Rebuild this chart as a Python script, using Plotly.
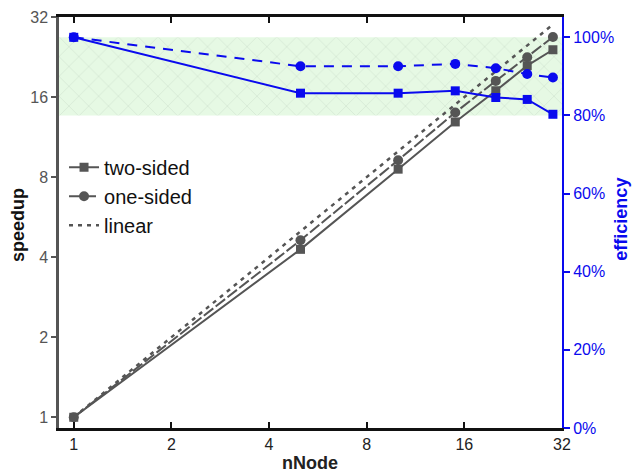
import plotly.graph_objects as go
import math

nodes = [1, 5, 10, 15, 20, 25, 30]
speedup_two = [1.0, 4.28, 8.57, 12.9, 16.9, 21.0, 24.1]
speedup_one = [1.0, 4.63, 9.26, 14.0, 18.4, 22.6, 26.9]
linear_x = [1, 30]
linear_y = [1, 30]
eff_two = [1.0, 0.857, 0.857, 0.863, 0.846, 0.841, 0.803]
eff_one = [1.0, 0.926, 0.926, 0.932, 0.921, 0.906, 0.897]
band_low, band_high = 0.8, 1.0
tick_vals = [1, 2, 4, 8, 16, 32]
eff_ticks = [0, 0.2, 0.4, 0.6, 0.8, 1.0]
eff_labels = ["0%", "20%", "40%", "60%", "80%", "100%"]

GRAY = "#555555"
BLUE = "#0a0aee"
FONT = "Liberation Sans, Arial, sans-serif"

X_RANGE = [math.log10(2 ** -0.151), math.log10(32)]
Y_RANGE = [math.log10(2 ** -0.134), math.log10(32)]
E_RANGE = [0, 1.052]


def eff_to_speed_axis(e):
    frac = (e - E_RANGE[0]) / (E_RANGE[1] - E_RANGE[0])
    return 10 ** (Y_RANGE[0] + frac * (Y_RANGE[1] - Y_RANGE[0]))


bx0, bx1 = 10 ** X_RANGE[0], 10 ** X_RANGE[1]
by0, by1 = eff_to_speed_axis(band_low), eff_to_speed_axis(band_high)

fig = go.Figure()

# efficiency band (hatched), drawn on the base subplot so it sits under everything
fig.add_trace(go.Scatter(
    x=[bx0, bx1, bx1, bx0, bx0], y=[by0, by0, by1, by1, by0],
    mode="lines", line=dict(width=0),
    fill="toself", fillcolor="#e6f9e4",
    fillpattern=dict(shape="x", size=14, solidity=0.08, fgcolor="#b5c5b5", bgcolor="#e6f9e4"),
    showlegend=False, hoverinfo="skip"))

fig.add_trace(go.Scatter(x=nodes, y=speedup_two, mode="lines+markers", name="two-sided",
    line=dict(color=GRAY, width=2), marker=dict(symbol="square", size=9, color=GRAY)))
fig.add_trace(go.Scatter(x=nodes, y=speedup_one, mode="lines+markers", name="one-sided",
    line=dict(color=GRAY, width=2, dash="12px,3px"), marker=dict(symbol="circle", size=10, color=GRAY)))
fig.add_trace(go.Scatter(x=linear_x, y=linear_y, mode="lines", name="linear",
    line=dict(color=GRAY, width=2.5, dash="4px,5px")))

fig.add_trace(go.Scatter(x=nodes, y=eff_two, yaxis="y2", mode="lines+markers",
    line=dict(color=BLUE, width=2), marker=dict(symbol="square", size=9, color=BLUE),
    showlegend=False))
fig.add_trace(go.Scatter(x=nodes, y=eff_one, yaxis="y2", mode="lines+markers",
    line=dict(color=BLUE, width=2, dash="10px,8px"), marker=dict(symbol="circle", size=10, color=BLUE),
    showlegend=False))

fig.update_layout(
    width=632, height=473,
    margin=dict(l=59, r=70, t=17, b=45),
    paper_bgcolor="white", plot_bgcolor="white",
    font=dict(family=FONT, size=16, color="#222"),
    showlegend=True,
    legend=dict(x=0.010, y=0.682, xanchor="left", yanchor="top",
                font=dict(family=FONT, size=20, color="#111"),
                bgcolor="rgba(0,0,0,0)", tracegroupgap=0, itemwidth=30),
    xaxis=dict(type="log", range=X_RANGE, automargin=False,
               tickvals=tick_vals, ticktext=[str(v) for v in tick_vals],
               ticks="inside", ticklen=6, tickwidth=2, tickcolor="#111",
               showline=True, linecolor="#111", linewidth=2.5, mirror="ticks",
               showgrid=False, zeroline=False,
               tickfont=dict(family=FONT, size=16, color="#222")),
    yaxis=dict(type="log", range=Y_RANGE, automargin=False,
               tickvals=tick_vals, ticktext=[str(v) for v in tick_vals],
               ticks="outside", ticklen=5, tickwidth=2, tickcolor=GRAY,
               showline=True, linecolor=GRAY, linewidth=2.5,
               showgrid=False, zeroline=False,
               tickfont=dict(family=FONT, size=16, color=GRAY)),
    yaxis2=dict(overlaying="y", side="right", range=E_RANGE, automargin=False,
                tickvals=eff_ticks, ticktext=eff_labels,
                ticks="outside", ticklen=6, tickwidth=2, tickcolor=BLUE,
                showline=True, linecolor=BLUE, linewidth=2,
                showgrid=False, zeroline=False,
                tickfont=dict(family=FONT, size=16, color=BLUE)),
    annotations=[
        dict(text="<b>nNode</b>", xref="paper", yref="paper", x=0.499, y=-0.084,
             xanchor="center", yanchor="middle", showarrow=False,
             font=dict(family=FONT, size=18, color="#222")),
        dict(text="<b>speedup</b>", xref="paper", yref="paper", x=-0.0815, y=0.494,
             xanchor="center", yanchor="middle", textangle=-90, showarrow=False,
             font=dict(family=FONT, size=18, color="#111")),
        dict(text="<b>efficiency</b>", xref="paper", yref="paper", x=1.117, y=0.509,
             xanchor="center", yanchor="middle", textangle=-90, showarrow=False,
             font=dict(family=FONT, size=18, color=BLUE)),
    ],
)

fig.write_html("out.html", config={"displayModeBar": False},
               post_script="document.body.style.margin='0';")
